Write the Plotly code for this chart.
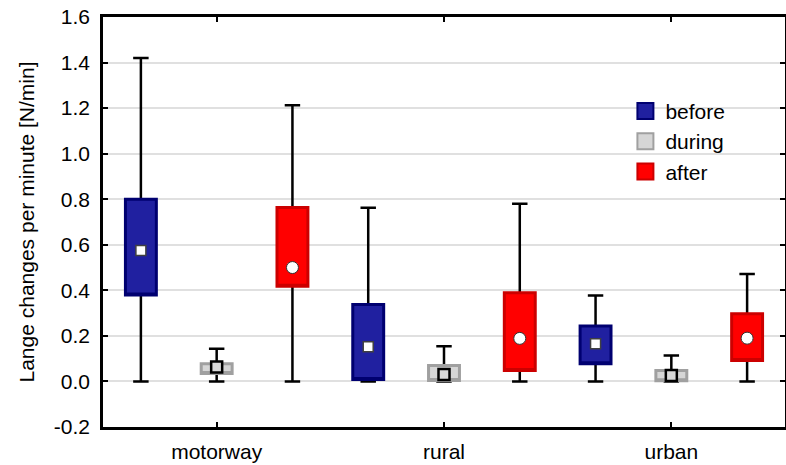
import plotly.graph_objects as go

categories = ["motorway", "rural", "urban"]
series = ["before", "during", "after"]

before_min = [0.0, 0.0, 0.0]
before_q1 = [0.38, 0.009, 0.078]
before_med = [0.575, 0.152, 0.165]
before_q3 = [0.80, 0.338, 0.243]
before_max = [1.42, 0.763, 0.377]

during_min = [0.0, 0.0, 0.0]
during_q1 = [0.035, 0.004, 0.003]
during_med = [0.063, 0.030, 0.026]
during_q3 = [0.078, 0.070, 0.048]
during_max = [0.143, 0.155, 0.114]

after_min = [0.0, 0.0, 0.0]
after_q1 = [0.418, 0.048, 0.092]
after_med = [0.500, 0.189, 0.190]
after_q3 = [0.764, 0.389, 0.297]
after_max = [1.213, 0.780, 0.472]

y_tick_vals = [-0.2, 0.0, 0.2, 0.4, 0.6, 0.8, 1.0, 1.2, 1.4, 1.6]
y_tick_text = ["-0.2", "0.0", "0.2", "0.4", "0.6", "0.8", "1.0", "1.2", "1.4", "1.6"]

stats = {
    "before": (before_min, before_q1, before_med, before_q3, before_max),
    "during": (during_min, during_q1, during_med, during_q3, during_max),
    "after": (after_min, after_q1, after_med, after_q3, after_max),
}
styles = {
    "before": dict(fill="#2020A0", edge="#000070", msym="square", msize=10,
                   mfill="white", mline="#404040", mlw=1.5, off=-1/3),
    "during": dict(fill="#D6D6D6", edge="#A0A0A0", msym="square", msize=11,
                   mfill="#D9D9D9", mline="black", mlw=2.5, off=0.0),
    "after": dict(fill="#FF0000", edge="#CC0000", msym="circle", msize=12,
                  mfill="white", mline="#333333", mlw=1, off=1/3),
}
BOXW = 0.136
FONT = "Liberation Sans, Arial, sans-serif"

fig = go.Figure()

def xpos(s):
    return [i + 0.5 + styles[s]["off"] for i in range(len(categories))]

# whiskers
for s in series:
    mn, q1, md, q3, mx = stats[s]
    fig.add_trace(go.Box(
        x=xpos(s), q1=md, median=md, q3=md, lowerfence=mn, upperfence=mx,
        width=BOXW, whiskerwidth=0.5, fillcolor="rgba(0,0,0,0)",
        line=dict(color="black", width=2.5), boxpoints=False,
        showlegend=False, hoverinfo="skip"))

# boxes
for s in series:
    mn, q1, md, q3, mx = stats[s]
    st = styles[s]
    fig.add_trace(go.Box(
        x=xpos(s), q1=q1, median=q1, q3=q3, lowerfence=q1, upperfence=q3,
        width=BOXW, whiskerwidth=0, fillcolor=st["fill"],
        line=dict(color=st["edge"], width=3), boxpoints=False,
        showlegend=False, hoverinfo="skip"))

# medians
for s in series:
    mn, q1, md, q3, mx = stats[s]
    st = styles[s]
    fig.add_trace(go.Scatter(
        x=xpos(s), y=md, mode="markers", showlegend=False, hoverinfo="skip",
        marker=dict(symbol=st["msym"], size=st["msize"], color=st["mfill"],
                    line=dict(color=st["mline"], width=st["mlw"]))))

# legend entries
for s in series:
    st = styles[s]
    fig.add_trace(go.Scatter(
        x=[None], y=[None], mode="markers", name=s,
        marker=dict(symbol="square", size=16, color=st["fill"],
                    line=dict(color=st["edge"], width=2))))

fig.update_layout(
    width=786, height=465,
    margin=dict(l=103, r=1, t=17, b=38, autoexpand=False),
    paper_bgcolor="white", plot_bgcolor="white",
    boxmode="overlay",
    font=dict(family=FONT, size=21, color="black"),
    showlegend=True,
    legend=dict(x=0.766, y=0.82, xanchor="left", yanchor="top",
                bgcolor="rgba(0,0,0,0)", font=dict(size=21),
                tracegroupgap=0),
    xaxis=dict(range=[0, 3], tickvals=[0.5, 1.5, 2.5], ticktext=categories,
               ticks="inside", ticklen=5, tickwidth=2, tickcolor="black",
               showline=True, linecolor="black", linewidth=2.5,
               mirror="ticks", showgrid=False, zeroline=False,
               automargin=False,
               ticklabelstandoff=4, tickfont=dict(size=21)),
    yaxis=dict(range=[-0.2, 1.6], tickvals=y_tick_vals, ticktext=y_tick_text,
               ticks="inside", ticklen=5, tickwidth=2, tickcolor="black",
               showline=True, linecolor="black", linewidth=2.5,
               mirror="ticks", showgrid=True, gridcolor="#E0E0E0",
               gridwidth=1.5, zeroline=False, ticklabelstandoff=6,
               automargin=False,
               tickfont=dict(size=21),
               title=dict(text="Lange changes per minute [N/min]",
                          font=dict(size=21), standoff=14)),
)

fig.write_html("out.html",
               config={"displayModeBar": False},
               post_script="document.body.style.margin='0';document.body.style.overflow='hidden';")
